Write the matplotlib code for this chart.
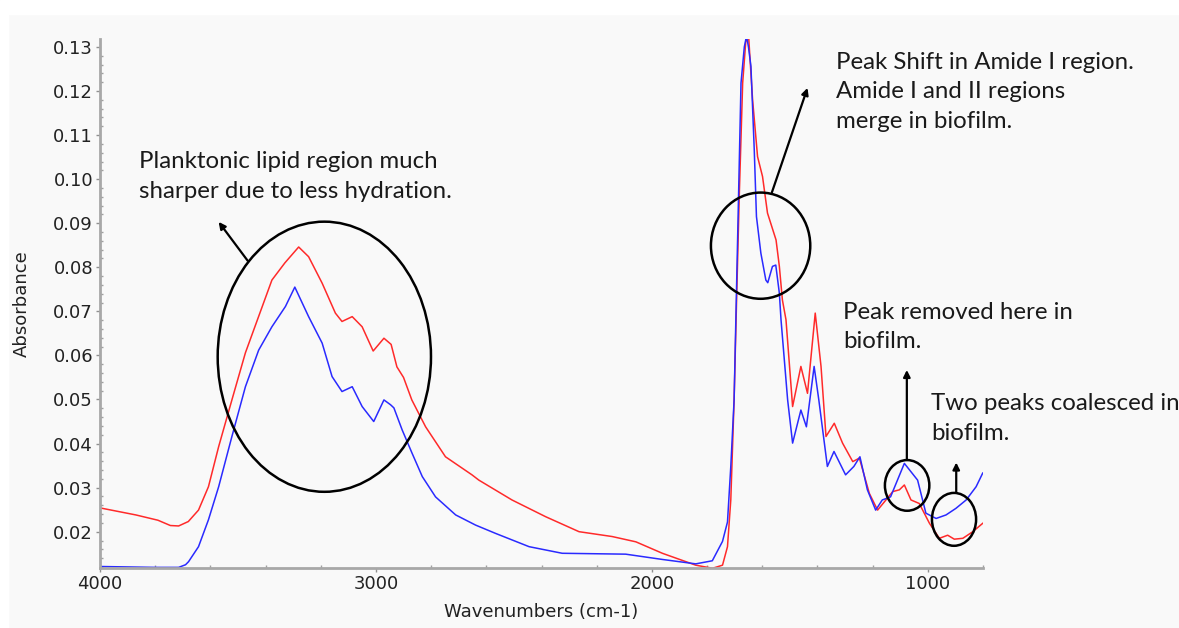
import numpy as np
import matplotlib.pyplot as plt
from matplotlib.patches import Ellipse
from matplotlib.ticker import MultipleLocator, FormatStrFormatter

# espectros FTIR
wn_rojo = [4000, 3870, 3790, 3745, 3715, 3680, 3643, 3607, 3570, 3522, 3473, 3430,
           3377, 3330, 3280, 3244, 3195, 3147, 3123, 3086, 3050, 3010, 2971, 2945,
           2924, 2900, 2870, 2820, 2748, 2652, 2627, 2507, 2385, 2264, 2144, 2058,
           1962, 1841, 1780, 1744, 1726, 1714, 1702, 1693, 1683, 1671, 1660, 1650,
           1635, 1617, 1599, 1581, 1550, 1538, 1527, 1514, 1490, 1460, 1436, 1408,
           1387, 1369, 1339, 1309, 1272, 1248, 1212, 1182, 1157, 1127, 1103, 1085,
           1061, 1031, 994, 958, 928, 904, 873, 837, 801]
abs_rojo = [0.0254, 0.0238, 0.0226, 0.0214, 0.0213, 0.0223, 0.0249, 0.0302, 0.0393,
            0.0499, 0.0606, 0.0680, 0.0771, 0.0810, 0.0846, 0.0824, 0.0764, 0.0696,
            0.0677, 0.0688, 0.0665, 0.0610, 0.0639, 0.0625, 0.0574, 0.0550, 0.0499,
            0.0438, 0.0370, 0.0329, 0.0317, 0.0272, 0.0234, 0.0200, 0.0189, 0.0177,
            0.0151, 0.0124, 0.0117, 0.0124, 0.0166, 0.0272, 0.0499, 0.0726, 0.0969,
            0.1218, 0.1310, 0.1330, 0.1180, 0.1051, 0.1006, 0.0923, 0.0862, 0.0802,
            0.0726, 0.0681, 0.0484, 0.0575, 0.0514, 0.0696, 0.0575, 0.0416, 0.0446,
            0.0401, 0.0359, 0.0367, 0.0287, 0.0249, 0.0268, 0.0291, 0.0295, 0.0306,
            0.0272, 0.0264, 0.0219, 0.0185, 0.0192, 0.0183, 0.0185, 0.0200, 0.0219]

wn_azul = [4000, 3800, 3715, 3690, 3679, 3643, 3607, 3570, 3522, 3473, 3425, 3377,
           3328, 3294, 3244, 3195, 3159, 3123, 3086, 3050, 3008, 2971, 2947, 2935,
           2905, 2869, 2832, 2784, 2711, 2639, 2566, 2445, 2325, 2095, 1962, 1841,
           1781, 1744, 1726, 1714, 1702, 1677, 1665, 1657, 1650, 1641, 1629, 1621,
           1605, 1587, 1580, 1563, 1551, 1538, 1532, 1508, 1490, 1460, 1440, 1412,
           1395, 1364, 1340, 1298, 1268, 1246, 1219, 1189, 1165, 1135, 1085, 1037,
           1007, 970, 934, 898, 861, 825, 801]
abs_azul = [0.0121, 0.0119, 0.0119, 0.0125, 0.0132, 0.0166, 0.0227, 0.0302, 0.0416,
            0.0529, 0.0612, 0.0665, 0.0711, 0.0755, 0.0688, 0.0628, 0.0552, 0.0518,
            0.0529, 0.0484, 0.0450, 0.0499, 0.0488, 0.0481, 0.0431, 0.0378, 0.0325,
            0.0279, 0.0238, 0.0215, 0.0196, 0.0166, 0.0151, 0.0149, 0.0137, 0.0127,
            0.0134, 0.0178, 0.0222, 0.0348, 0.0499, 0.1218, 0.1300, 0.1325, 0.1300,
            0.1256, 0.1067, 0.0915, 0.0832, 0.0771, 0.0765, 0.0802, 0.0805, 0.0741,
            0.0681, 0.0499, 0.0401, 0.0476, 0.0438, 0.0575, 0.0499, 0.0348, 0.0382,
            0.0329, 0.0348, 0.0370, 0.0295, 0.0249, 0.0272, 0.0279, 0.0355, 0.0317,
            0.0242, 0.0230, 0.0238, 0.0253, 0.0272, 0.0302, 0.0333]

W, H = 1179, 628
fig = plt.figure(figsize=(W / 100, H / 100), dpi=100, facecolor='#f9f9f9')
ax = fig.add_axes([100 / W, 1 - 568 / H, 883 / W, 529 / H])
ax.set_facecolor('#f9f9f9')

# franja blanca arriba e izquierda
fig.patches.append(plt.Rectangle((0, 1 - 14 / H), 1, 14 / H, transform=fig.transFigure,
                                 color='white', zorder=-1))
fig.patches.append(plt.Rectangle((0, 0), 8 / W, 1, transform=fig.transFigure,
                                 color='white', zorder=-1))

ax.plot(wn_rojo, abs_rojo, color='#ff2a2a', lw=1.1)
ax.plot(wn_azul, abs_azul, color='#2a2aff', lw=1.1)

ax.set_xlim(4000, 800)
ax.set_ylim(0.01176, 0.1318)

for s in ['top', 'right']:
    ax.spines[s].set_visible(False)
for s in ['left', 'bottom']:
    ax.spines[s].set_color('#a8a8a8')
    ax.spines[s].set_linewidth(2)

ax.xaxis.set_major_locator(MultipleLocator(1000))
ax.xaxis.set_minor_locator(MultipleLocator(200))
ax.yaxis.set_major_locator(MultipleLocator(0.01))
ax.yaxis.set_minor_locator(MultipleLocator(0.002))
ax.yaxis.set_major_formatter(FormatStrFormatter('%.2f'))
ax.set_yticks(np.arange(0.02, 0.1305, 0.01))
ax.tick_params(which='major', direction='out', length=3, width=1, color='#909090',
               labelsize=13, labelcolor='#222222', pad=2)
ax.tick_params(which='minor', direction='in', length=2.5, width=1, color='#a0a0a0')

ax.set_xlabel('Wavenumbers (cm-1)', fontsize=13, color='#222222', labelpad=7)
ax.set_ylabel('Absorbance', fontsize=13, color='#222222', labelpad=16)

# circulos de anotacion
elipses = [(3187, 0.0597, 773, 0.0613), (1606, 0.0849, 360, 0.0241),
           (1075, 0.0305, 161, 0.0115), (905, 0.0228, 160, 0.0120)]
for cx, cy, w, h in elipses:
    ax.add_patch(Ellipse((cx, cy), w, h, fill=False, ec='black', lw=1.8, zorder=5))

flechas = [((3465, 0.0815), (3570, 0.0903)), ((1565, 0.0970), (1436, 0.1207)),
           ((1076, 0.0363), (1076, 0.0567)), ((897, 0.0289), (897, 0.0357))]
for ini, fin in flechas:
    ax.annotate('', xy=fin, xytext=ini,
                arrowprops=dict(arrowstyle='-|>', color='black', lw=1.6,
                                mutation_scale=10, shrinkA=0, shrinkB=0))

fuente = 'Lato'
textos = [(139, 157, 'Planktonic lipid region much\nsharper due to less hydration.'),
          (836, 58, 'Peak Shift in Amide I region.\nAmide I and II regions\nmerge in biofilm.'),
          (843, 308, 'Peak removed here in\nbiofilm.'),
          (931, 399, 'Two peaks coalesced in\nbiofilm.')]
for x, y, t in textos:
    fig.text(x / W, 1 - (y - 6) / H, t, fontsize=17.3, family=fuente, color='#1a1a1a',
             va='top', ha='left', linespacing=1.5)

fig.savefig('out.png', dpi=100, facecolor=fig.get_facecolor())
